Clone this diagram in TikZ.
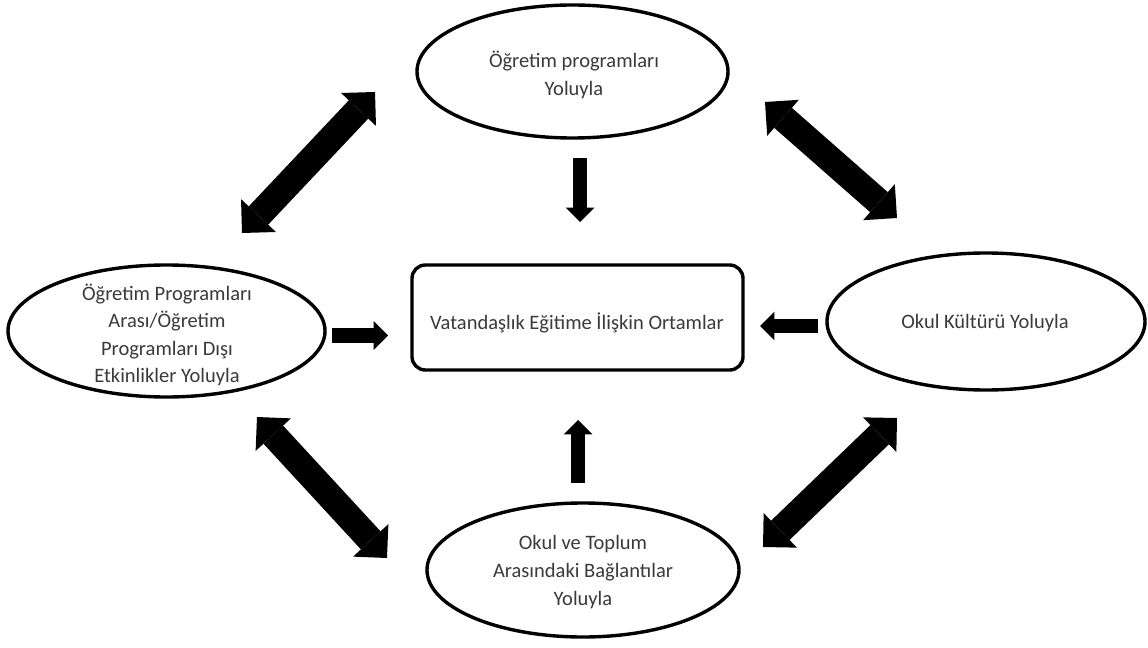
\documentclass[tikz,border=0pt]{standalone}
\usepackage{fontspec}
\setmainfont{Carlito}
\usetikzlibrary{shapes.geometric,arrows.meta}
\definecolor{txtgray}{HTML}{3A3A3A}

\begin{document}
\begin{tikzpicture}[x=0.03cm, y=-0.03cm,
	oval/.style={draw=black, line width=2.9pt, ellipse, inner sep=0pt},
	lbl/.style={align=center, text=txtgray, font=\fontsize{17.5}{23.5}\selectfont},
	bigarrow/.style={line width=0.8cm, {Triangle[length=0.72cm,width=1.44cm,line width=0pt]}-{Triangle[length=0.72cm,width=1.44cm,line width=0pt]}},
	smallarrow/.style={line width=0.44cm, -{Triangle[length=0.43cm,width=0.86cm,line width=0pt]}}]
	\fill[white] (0,0) rectangle (1148,648);
	\useasboundingbox (0,0) rectangle (1148,648);
	% the four ways and the middle box
	\node[oval, minimum width=9.33cm, minimum height=3.99cm] (prog) at (572.5,71.5) {};
	\node[oval, minimum width=9.51cm, minimum height=3.96cm] (extra) at (166.5,331) {};
	\node[oval, minimum width=9.54cm, minimum height=4.11cm] (culture) at (986,321.5) {};
	\node[oval, minimum width=9.36cm, minimum height=4.02cm] (society) at (583,570) {};
	\node[draw=black, line width=2.9pt, rounded corners=0.4cm, minimum width=9.93cm, minimum height=3.15cm] (env) at (577.5,317.5) {};
	\node [lbl] (progtxt) at (574,75) {Öğretim programları\\Yoluyla};
	\node [lbl] (extratxt) at (167,335) {Öğretim Programları\\Arası/Öğretim\\Programları Dışı\\Etkinlikler Yoluyla};
	\node [lbl] (culturetxt) at (985,323) {Okul Kültürü Yoluyla};
	\node [lbl] (societytxt) at (583,572) {Okul ve Toplum\\Arasındaki Bağlantılar\\Yoluyla};
	\node [lbl] (envtxt) at (577,323) {Vatandaşlık Eğitime İlişkin Ortamlar};
	% arrow ends
	\coordinate (tlA) at (242,233);
	\coordinate (tlB) at (375,92);
	\coordinate (trA) at (765,102);
	\coordinate (trB) at (897,218);
	\coordinate (blA) at (257,417);
	\coordinate (blB) at (387,558);
	\coordinate (brA) at (763,547);
	\coordinate (brB) at (897,418);
	\coordinate (dnA) at (580,158);
	\coordinate (dnB) at (580,222);
	\coordinate (upA) at (578,483);
	\coordinate (upB) at (578,420);
	\coordinate (rtA) at (332,335.5);
	\coordinate (rtB) at (388,335.5);
	\coordinate (ltA) at (818,326);
	\coordinate (ltB) at (760,326);
	\draw[bigarrow] (tlA) -- (tlB);
	\draw[bigarrow] (trA) -- (trB);
	\draw[bigarrow] (blA) -- (blB);
	\draw[bigarrow] (brA) -- (brB);
	\draw[smallarrow] (dnA) -- (dnB);
	\draw[smallarrow] (upA) -- (upB);
	\draw[smallarrow] (rtA) -- (rtB);
	\draw[smallarrow] (ltA) -- (ltB);
\end{tikzpicture}
\end{document}
